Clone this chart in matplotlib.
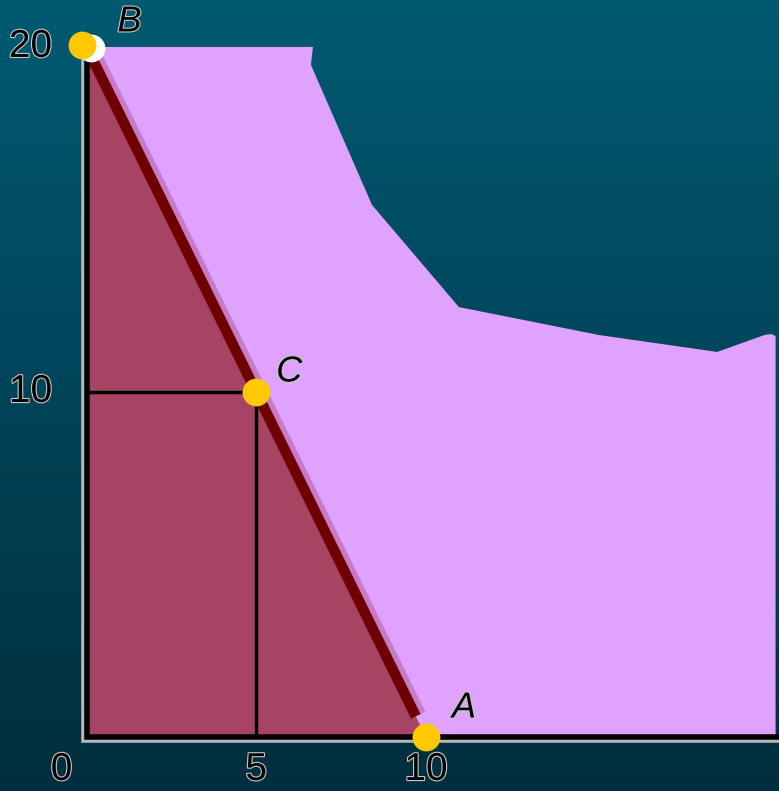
import matplotlib
matplotlib.use("Agg")
import matplotlib.pyplot as plt
import matplotlib.patheffects as pe
import matplotlib.transforms as mtransforms
import numpy as np

# Production possibilities data
frontier_x = [0, 6.67, 6.61, 8.41, 10.97, 15.1, 18.58, 19.97, 20.18, 20.3, 20.3, 0]
frontier_y = [20, 20, 19.48, 15.42, 12.46, 11.65, 11.16, 11.65, 11.68, 11.62, 0, 0]
budget_x = [0, 10]
budget_y = [20, 0]
point_names = ["B", "C", "A"]
point_x = [0, 5, 10]
point_y = [20, 10, 0]
xticks = [0, 5, 10]
yticks = [10, 20]

fig = plt.figure(figsize=(7.79, 7.91), dpi=100)
ax = fig.add_axes([0, 0, 1, 1])
xmin, xmax = -2.55, 20.4
ymin, ymax = -1.565, 21.36
ax.set_xlim(xmin, xmax)
ax.set_ylim(ymin, ymax)
ax.axis("off")

# Background gradient
top = np.array([0, 90, 114]) / 255
bot = np.array([0, 46, 62]) / 255
t = np.linspace(0, 1, 256)[:, None]
grad = (top * (1 - t) + bot * t)[:, None, :].repeat(2, axis=1)
ax.imshow(grad, extent=[xmin, xmax, ymin, ymax], aspect="auto", zorder=0)

# Light purple region
ax.fill(frontier_x, frontier_y, color="#dfa2ff", zorder=1, lw=0)

# Dark triangle under budget line
ax.fill([budget_x[0], budget_x[1], 0], [budget_y[0], budget_y[1], 0],
        color="#a84463", zorder=2, lw=0)

# Budget line (slightly soft)
bx = np.array(budget_x, dtype=float)
by = np.array(budget_y, dtype=float)
ex = bx[0] + (bx[1] - bx[0]) * 0.97
ey = by[0] + (by[1] - by[0]) * 0.97
soft = mtransforms.offset_copy(ax.transData, fig=fig, x=2, y=1, units="dots")
ax.plot([bx[0], ex], [by[0], ey], color="#9a3060", lw=12, alpha=0.35,
        solid_capstyle="butt", transform=soft, zorder=3)
ax.plot([bx[0], ex], [by[0], ey], color="#6e0000", lw=7.5,
        solid_capstyle="butt", zorder=3)

# Guide lines from C
cx, cy = point_x[1], point_y[1]
ax.plot([0, cx], [cy, cy], color="black", lw=2.5, zorder=4)
ax.plot([cx, cx], [0, cy], color="black", lw=2.5, zorder=4)

# Axes
off = mtransforms.offset_copy(ax.transData, fig=fig, x=-2.5, y=-2.5, units="dots")
ax.plot([0, 0, xmax], [20, 0, 0], color="#b8b8b8", lw=4, transform=off,
        zorder=4, solid_joinstyle="miter")
ax.plot([0, 0, xmax], [20, 0, 0], color="black", lw=4, zorder=5,
        solid_joinstyle="miter")

halo = [pe.withStroke(linewidth=1.6, foreground="#c8c8c8")]

# Points
wt = mtransforms.offset_copy(ax.transData, fig=fig, x=4, y=-1, units="dots")
ax.scatter([point_x[0]], [point_y[0]], s=400, color="white", transform=wt,
           zorder=6, lw=0)
bt = mtransforms.offset_copy(ax.transData, fig=fig, x=-5, y=2, units="dots")
ax.scatter([point_x[0]], [point_y[0]], s=400, color="#ffc800", transform=bt,
           zorder=7, lw=0)
ax.scatter(point_x[1:], point_y[1:], s=400, color="#ffc800", zorder=7, lw=0)

offsets = {"B": (43, 25), "C": (33, 20), "A": (38, 29)}
for name, px, py in zip(point_names, point_x, point_y):
    ax.annotate(name, (px, py), xytext=offsets[name], textcoords="offset pixels",
                ha="center", va="center", fontsize=26, style="italic",
                family="Liberation Sans", color="black", path_effects=halo,
                zorder=8)

# Tick labels
for v in xticks:
    ax.annotate(str(v), (v, 0), xytext=(0 if v else -25, -33),
                textcoords="offset pixels", ha="center", va="center",
                fontsize=28, family="Liberation Sans", color="black",
                path_effects=halo, zorder=8)
for v in yticks:
    ax.annotate(str(v), (0, v), xytext=(-56, 0), textcoords="offset pixels",
                ha="center", va="center", fontsize=28, family="Liberation Sans",
                color="black", path_effects=halo, zorder=8)

fig.savefig("out.png", dpi=100)
